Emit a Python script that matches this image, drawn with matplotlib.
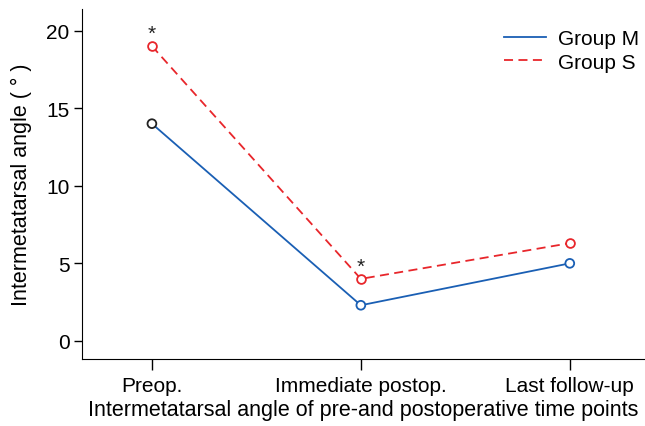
import matplotlib
matplotlib.use("Agg")
import matplotlib.pyplot as plt

plt.rcParams["font.family"] = ["Liberation Sans", "DejaVu Sans"]

time_points = ["Preop.", "Immediate postop.", "Last follow-up"]
group_m = [14.0, 2.3, 5.0]
group_s = [19.0, 4.0, 6.3]
sig_points = [0, 1]  # asterisks over group S

blue = "#1a5fb4"
red = "#e8262b"

fig = plt.figure(figsize=(6.45, 4.27), dpi=100)
ax = fig.add_axes([0.127, 0.157, 0.873, 0.820])

x = list(range(len(time_points)))
ax.plot(x, group_m, color=blue, lw=1.3, label="Group M")
ax.plot(x, group_s, color=red, lw=1.3, ls=(0, (5, 3)), label="Group S")
m_edge = ["#222222", blue, blue]
ax.scatter(x, group_m, s=40, facecolors="white", edgecolors=m_edge, lw=1.3, zorder=3)
ax.scatter(x, group_s, s=40, facecolors="white", edgecolors=red, lw=1.3, zorder=3)

for i in sig_points:
    ax.text(x[i], group_s[i] + 0.2, "*", ha="center", va="bottom",
            fontsize=15, color="#222222")

ax.set_xlim(-0.335, 2.36)
ax.set_ylim(-1.16, 21.4)
ax.set_xticks(x)
ax.set_xticklabels(time_points, fontsize=15)
ax.set_yticks([0, 5, 10, 15, 20])
ax.tick_params(axis="y", labelsize=15, length=6, width=1, direction="out", pad=3)
ax.tick_params(axis="x", length=8, width=1, direction="out", pad=4)
ax.spines["top"].set_visible(False)
ax.spines["right"].set_visible(False)
ax.set_ylabel("Intermetatarsal angle ( ° )", fontsize=15.5, labelpad=10)
ax.set_xlabel("Intermetatarsal angle of pre-and postoperative time points", fontsize=15.5, labelpad=3)

ax.legend(loc="upper right", frameon=False, fontsize=15, handlelength=2.0,
          handletextpad=0.6, borderaxespad=0.2, labelspacing=0.22,
          bbox_to_anchor=(1.012, 0.978))

fig.savefig("out.png", dpi=100)
